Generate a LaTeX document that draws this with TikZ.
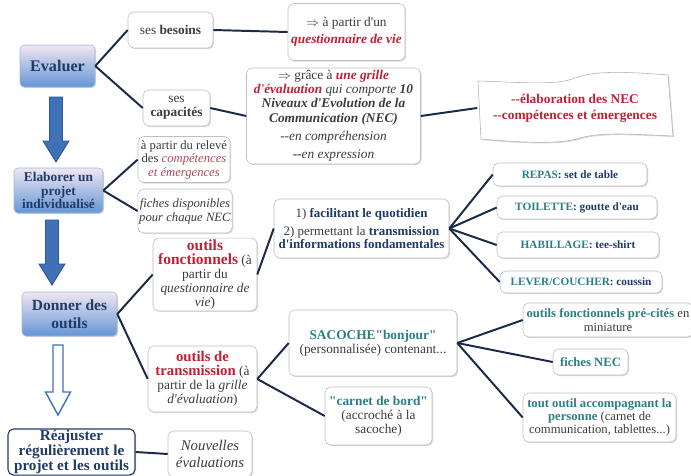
\documentclass[tikz,border=0pt]{standalone}
\usepackage{fontspec}
\setmainfont{Liberation Serif}[Ligatures=TeXOff]
\usepackage{tikz}
\usetikzlibrary{shadows, positioning}
\definecolor{Navy}{HTML}{1F3B66}
\definecolor{LinkBlue}{HTML}{1B2A48}
\definecolor{Crimson}{HTML}{C21F32}
\definecolor{Rose}{HTML}{B24758}
\definecolor{Lagoon}{HTML}{2A7F86}
\definecolor{Ink}{HTML}{3C3C3C}
\definecolor{Lilac}{HTML}{F1E6F1}
\definecolor{SkyBlue}{HTML}{6495D6}
\definecolor{EdgeBlue}{HTML}{9DB9E0}
\definecolor{ArrowBlue}{HTML}{3E71B6}
\definecolor{ArrowEdge}{HTML}{2C5893}
\newcommand{\emphred}[1]{\textcolor{Crimson}{\textbf{\textit{#1}}}}
\newcommand{\lag}[1]{\textcolor{Lagoon}{#1}}

\begin{document}
\begin{tikzpicture}[x=0.025cm, y=-0.025cm,
    sz/.style 2 args={minimum width=#1*0.025cm, minimum height=#2*0.025cm},
    stage/.style={rectangle, rounded corners=3pt, draw=EdgeBlue, top color=Lilac,
                  bottom color=SkyBlue, text=Navy, align=center, inner sep=1pt,
                  drop shadow={shadow xshift=0.8pt, shadow yshift=-0.8pt, opacity=0.3}},
    card/.style={rectangle, rounded corners=4pt, draw=black!25, fill=white, text=Ink,
                 align=center, inner sep=1pt, font=\fontsize{9.5}{10}\selectfont,
                 drop shadow={shadow xshift=0.8pt, shadow yshift=-0.8pt, opacity=0.3}},
    tag/.style={card, text=Navy, font=\fontsize{8}{9.5}\selectfont\bfseries},
    link/.style={draw=LinkBlue, line width=1.4pt},
    stagearrow/.style={fill=ArrowBlue, draw=ArrowEdge, line width=0.6pt}]

    \fill[white] (0,0) rectangle (691,475);
    \useasboundingbox (0,0) rectangle (691,475);

    % Evaluer
    \node[stage, sz={75}{42}, font=\fontsize{11.5}{13}\selectfont\bfseries] (evaluer) at (57.5,66) {Evaluer};
    \node[card, sz={85}{36}] (besoins) at (170.5,30) {ses \textbf{besoins}};
    \node[card, sz={117}{57}] (questionnaire) at (346.5,32) {
        $\Rightarrow$ à partir d'un\\[2pt] \emphred{questionnaire de vie}
    };
    \node[card, sz={67}{36}] (capacites) at (176.5,108) {ses\\ \textbf{capacités}};
    \node[card, sz={174}{96}] (grille) at (333.5,116) {
        $\Rightarrow$ grâce à \emphred{une grille}\\
        \emphred{d'évaluation} \textit{qui comporte} \textbf{\textit{10}}\\
        \textbf{\textit{Niveaux d'Evolution de la}}\\
        \textbf{\textit{Communication (NEC)}}\\[3pt]
        \textit{--en compréhension}\\[3pt]
        \textbf{--}\textit{en expression}
    };

    % NEC banner
    \filldraw[fill=white, draw=black!30, drop shadow={shadow xshift=0.8pt, shadow yshift=-0.8pt, opacity=0.3}]
        (478,81) .. controls (520,82) and (555,86) .. (575,78)
        .. controls (595,70) and (630,72) .. (668,75) -- (673,136)
        .. controls (630,134) and (600,132) .. (580,138)
        .. controls (560,145) and (515,142) .. (481,139) -- cycle;
    \node[sz={195}{56}, align=center, text=Crimson, font=\fontsize{9.5}{11.5}\selectfont\bfseries] (nec) at (575,108) {
        --élaboration des NEC\\ --compétences et émergences
    };

    % Elaborer
    \node[stage, sz={89}{45}, font=\fontsize{9.5}{9.5}\selectfont\bfseries] (elaborer) at (58.5,190.5) {Elaborer un\\projet\\individualisé};
    \node[card, sz={92}{46}, font=\fontsize{9}{9.6}\selectfont] (releve) at (184,159.5) {
        à partir du relevé\\des \textcolor{Rose}{\textit{compétences}}\\ \textcolor{Rose}{\textit{et émergences}}
    };
    \node[card, sz={92}{44}, font=\fontsize{9}{10}\selectfont] (fiches) at (185,211) {
        \textit{fiches disponibles}\\ \textit{pour chaque NEC}
    };

    % Donner des outils
    \node[stage, sz={95}{44}, font=\fontsize{11}{12.5}\selectfont\bfseries] (donner) at (69.5,314) {Donner des\\outils};
    \node[card, sz={104}{65}] (fonctionnels) at (205,274.5) {
        {\fontsize{11}{12}\selectfont\textcolor{Crimson}{\textbf{outils}}}\\
        {\fontsize{11}{12}\selectfont\textcolor{Crimson}{\textbf{fonctionnels}}} (à\\
        partir du\\ \textit{questionnaire de}\\ \textit{vie})
    };
    \node[card, sz={175}{59}, font=\fontsize{9.2}{9}\selectfont] (facilitant) at (361.5,228.5) {
        1) \textcolor{Navy}{\textbf{facilitant le quotidien}}\\[4pt]
        2) permettant la \textcolor{Navy}{\textbf{transmission}}\\
        \textcolor{Navy}{\textbf{d'informations fondamentales}}
    };
    \node[tag, sz={154}{23}] (repas) at (570,174.5) {\lag{REPAS}: set de table};
    \node[tag, sz={160}{23}] (toilette) at (577,207.5) {\lag{TOILETTE}: goutte d'eau};
    \node[tag, sz={162}{26}] (habillage) at (578,245) {\lag{HABILLAGE}: tee-shirt};
    \node[tag, sz={162}{22}] (lever) at (581,282) {\lag{LEVER/COUCHER}: coussin};

    \node[card, sz={109}{66}] (transmission) at (202.5,379) {
        {\fontsize{10.5}{12}\selectfont\textcolor{Crimson}{\textbf{outils de}}}\\
        {\fontsize{10.5}{12}\selectfont\textcolor{Crimson}{\textbf{transmission}}} (à\\
        partir de la \textit{grille}\\ \textit{d'évaluation})
    };
    \node[card, sz={168}{66}] (sacoche) at (373,343) {
        \lag{\textbf{SACOCHE"bonjour"}}\\ (personnalisée) contenant...
    };
    \node[card, sz={107}{58}] (carnet) at (378.5,416) {
        \lag{\textbf{"carnet de bord"}}\\ (accroché à la\\ sacoche)
    };
    \node[card, sz={170}{34}, font=\fontsize{9}{9.5}\selectfont] (precites) at (608,320) {
        \lag{\textbf{outils fonctionnels pré-cités}} en\\ miniature
    };
    \node[card, sz={75}{26}, font=\fontsize{9}{9.5}\selectfont] (fichesnec) at (590.5,362) {\lag{\textbf{fiches NEC}}};
    \node[card, sz={153}{49}, font=\fontsize{9}{9.5}\selectfont] (toutoutil) at (599.5,417.5) {
        \lag{\textbf{tout outil accompagnant la}}\\
        \lag{\textbf{personne}} (carnet de\\ communication, tablettes...)
    };

    % Reajuster
    \node[card, draw=Navy, line width=0.8pt, text=Navy, sz={127}{44},
          font=\fontsize{10.8}{10.5}\selectfont\bfseries] (reajuster) at (71.5,452) {
        Réajuster\\régulièrement le\\projet et les outils
    };
    \node[card, sz={84}{46}, font=\fontsize{10.5}{11.5}\selectfont\itshape] (nouvelles) at (210,454) {
        Nouvelles\\évaluations
    };

    % Stage arrows
    \filldraw[stagearrow] (49.5,97) -- (62.5,97) -- (62.5,141) -- (69,141) -- (56,162)
        -- (43,141) -- (49.5,141) -- cycle;
    \filldraw[stagearrow] (45.5,220) -- (58.5,220) -- (58.5,264) -- (65,264) -- (52,285)
        -- (39,264) -- (45.5,264) -- cycle;
    \filldraw[fill=white, draw=ArrowBlue, line width=1pt] (53,345) -- (63,345) -- (63,392)
        -- (70.5,392) -- (58,415) -- (45.5,392) -- (53,392) -- cycle;

    % Links
    \draw[link] (evaluer.east) -- (besoins.west);
    \draw[link] (evaluer.east) -- (capacites.west);
    \draw[link] (besoins.east) -- (questionnaire.west);
    \draw[link] (capacites.east) -- (grille.west);
    \draw[link] (grille.east) -- (nec.west);
    \draw[link] (elaborer.east) -- (releve.west);
    \draw[link] (elaborer.east) -- (fiches.west);
    \draw[link] (donner.east) -- (fonctionnels.west);
    \draw[link] (donner.east) -- (transmission.west);
    \draw[link] (fonctionnels.east) -- (facilitant.west);
    \foreach \t in {repas, toilette, habillage, lever}
        \draw[link] (facilitant.east) -- (\t.west);
    \draw[link] (transmission.east) -- (sacoche.west);
    \draw[link] (transmission.east) -- (carnet.west);
    \foreach \t in {precites, fichesnec, toutoutil}
        \draw[link] (sacoche.east) -- (\t.west);
    \draw[link] (reajuster.east) -- (nouvelles.west);
\end{tikzpicture}
\end{document}
